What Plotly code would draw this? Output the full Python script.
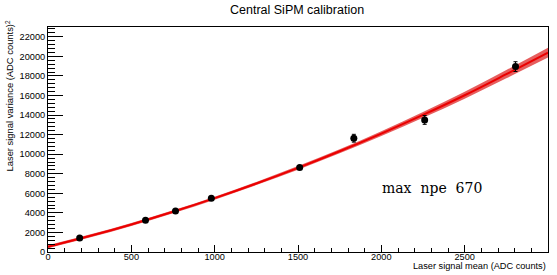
import plotly.graph_objects as go

# ---- data ----
mean_adc = [190, 585, 765, 980, 1510, 1835, 2260, 2805]
variance = [1420, 3250, 4180, 5490, 8650, 11630, 13500, 18950]
variance_err = [150, 150, 150, 150, 150, 400, 450, 500]

fit_x = [0, 250, 500, 750, 1000, 1250, 1500, 1750, 2000, 2250, 2500, 2750, 3000]
fit_y = [540, 1627, 2817, 4108, 5503, 7000, 8600, 10301, 12106, 14013, 16023, 18180, 20380]
fit_band = [150, 150, 150, 150, 150, 160, 180, 210, 250, 300, 350, 420, 500]

y_ticks = list(range(0, 22001, 2000))
y_tick_labels = [str(v) for v in y_ticks]
x_ticks = [0, 500, 1000, 1500, 2000, 2500, 3000]
x_tick_labels = [str(v) for v in x_ticks]

title_text = "Central SiPM calibration"
x_title = "Laser signal mean (ADC counts)"
y_title = "Laser signal variance (ADC counts)<sup>2</sup>"
label_text = "max\u00a0 npe\u00a0 670"

lower = [y - b for y, b in zip(fit_y, fit_band)]
upper = [y + b for y, b in zip(fit_y, fit_band)]

fig = go.Figure()
fig.add_trace(go.Scatter(x=fit_x, y=lower, mode="lines", line=dict(width=0, shape="spline"),
                         hoverinfo="skip", showlegend=False))
fig.add_trace(go.Scatter(x=fit_x, y=upper, mode="lines", line=dict(width=0, shape="spline"),
                         fill="tonexty", fillcolor="rgba(222,40,40,0.75)",
                         hoverinfo="skip", showlegend=False))
fig.add_trace(go.Scatter(x=fit_x, y=fit_y, mode="lines",
                         line=dict(color="rgb(235,0,0)", width=2, shape="spline"),
                         showlegend=False))
fig.add_trace(go.Scatter(x=mean_adc, y=variance, mode="markers",
                         marker=dict(color="black", size=7),
                         error_y=dict(type="data", array=variance_err, color="black",
                                      thickness=1, width=2),
                         showlegend=False))

font_sans = "Liberation Sans, Arial, sans-serif"

fig.update_layout(
    width=557, height=275,
    margin=dict(l=48, r=9, t=27, b=23),
    plot_bgcolor="white", paper_bgcolor="white",
    font=dict(family=font_sans, size=9, color="black"),
    xaxis=dict(range=[0, 3000], tickvals=x_ticks, ticktext=x_tick_labels,
               ticks="inside", ticklen=7, automargin=False, ticklabelstandoff=-4,
               tickcolor="black", showgrid=False, zeroline=False,
               showline=True, mirror=True, linecolor="black", linewidth=1,
               minor=dict(ticks="inside", ticklen=4, dtick=100, tickcolor="black"),
               tickfont=dict(size=9.2)),
    yaxis=dict(range=[0, 23000], tickvals=y_ticks, ticktext=y_tick_labels,
               ticks="inside", ticklen=15, automargin=False,
               tickcolor="black", showgrid=False, zeroline=False,
               showline=True, mirror=True, linecolor="black", linewidth=1,
               minor=dict(ticks="inside", ticklen=7, dtick=400, tickcolor="black"),
               tickfont=dict(size=9.2)),
    annotations=[
        dict(text=title_text, xref="paper", yref="paper", x=0.498, y=1.0756,
             xanchor="center", yanchor="middle", showarrow=False,
             font=dict(family=font_sans, size=12.5)),
        dict(text=x_title, xref="paper", yref="paper", x=1.0, y=-0.0644,
             xanchor="right", yanchor="middle", showarrow=False,
             font=dict(family=font_sans, size=9.2)),
        dict(text=y_title, xref="paper", yref="paper", x=-0.076, y=1.0356,
             xanchor="center", yanchor="top", textangle=-90, showarrow=False,
             font=dict(family=font_sans, size=9.4)),
        dict(text=label_text, xref="paper", yref="paper", x=0.664, y=0.284,
             xanchor="left", yanchor="middle", showarrow=False,
             font=dict(family="DejaVu Serif, serif", size=14)),
    ],
)

fig.write_html(
    "out.html",
    config={"displayModeBar": False},
    post_script="document.body.style.margin='0';document.body.style.overflow='hidden';",
)
